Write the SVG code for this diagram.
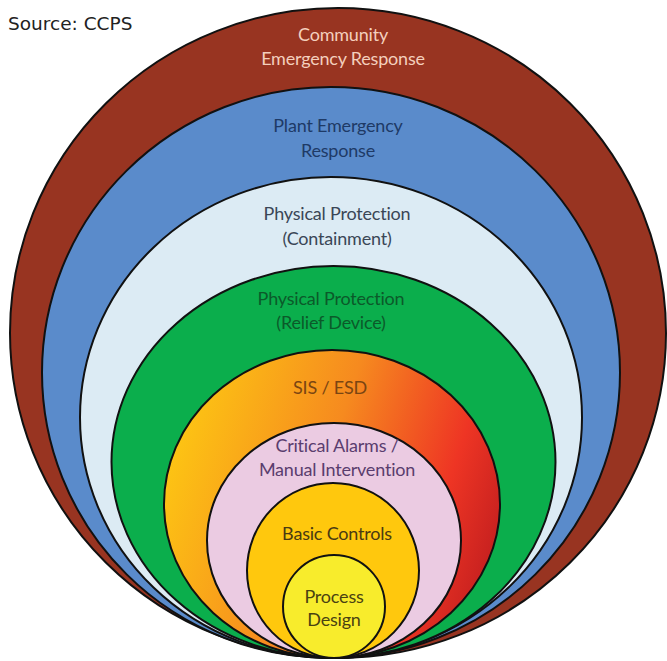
<svg xmlns="http://www.w3.org/2000/svg" width="667" height="661" viewBox="0 0 667 661">
<defs>
<linearGradient id="gOrange" x1="0" y1="0.35" x2="1" y2="0.65">
<stop offset="0" stop-color="#FDC613"/>
<stop offset="0.45" stop-color="#F68A1F"/>
<stop offset="0.8" stop-color="#EE3524"/>
<stop offset="1" stop-color="#C41F1F"/>
</linearGradient>
<style>
.ring{stroke:#111;stroke-width:2}
.lbl{font-family:Lato,"Open Sans","Liberation Sans",sans-serif;font-size:18px;text-anchor:middle;letter-spacing:-0.2px}
</style>
</defs>
<rect width="667" height="661" fill="#fff"/>
<text x="8" y="30" font-family="'DejaVu Sans',Verdana,sans-serif" font-size="18.5" fill="#222">Source: CCPS</text>
<g id="community">
<ellipse class="ring" cx="338" cy="333" rx="328" ry="325" fill="#983421"/>
<text class="lbl" fill="#F4CFBD"><tspan x="343" y="41">Community</tspan><tspan x="343" y="65">Emergency Response</tspan></text>
</g>
<g id="plant">
<ellipse class="ring" cx="331" cy="372.5" rx="289" ry="285.5" fill="#5A8BCB"/>
<text class="lbl" fill="#1E3A66"><tspan x="338" y="131.5">Plant Emergency</tspan><tspan x="338" y="156.5">Response</tspan></text>
</g>
<g id="containment">
<ellipse class="ring" cx="331" cy="417.5" rx="251" ry="240.5" fill="#DCEBF4"/>
<text class="lbl" fill="#3A4656"><tspan x="337" y="219.5">Physical Protection</tspan><tspan x="337" y="244.5">(Containment)</tspan></text>
</g>
<g id="relief">
<ellipse class="ring" cx="333.5" cy="462" rx="222" ry="196" fill="#0BAE4C"/>
<text class="lbl" fill="#0B5A2A"><tspan x="331" y="304.5">Physical Protection</tspan><tspan x="331" y="328.5">(Relief Device)</tspan></text>
</g>
<g id="sis">
<ellipse class="ring" cx="332" cy="504" rx="168" ry="154" fill="url(#gOrange)"/>
<text class="lbl" fill="#7A4512" x="330" y="393.5" letter-spacing="-0.6">SIS / ESD</text>
</g>
<g id="alarms">
<ellipse class="ring" cx="334" cy="540.5" rx="127" ry="117.5" fill="#EBCBE2"/>
<text class="lbl" fill="#5A3D6E"><tspan x="337" y="452">Critical Alarms /</tspan><tspan x="337" y="476">Manual Intervention</tspan></text>
</g>
<g id="basic">
<ellipse class="ring" cx="333" cy="570.5" rx="86" ry="87.5" fill="#FFC80D"/>
<text class="lbl" fill="#4A3A12" x="337" y="539.5">Basic Controls</text>
</g>
<g id="process">
<ellipse class="ring" cx="334" cy="606.5" rx="51" ry="51.5" fill="#F8EC2C"/>
<text class="lbl" fill="#4A4212" font-size="15.5"><tspan x="334" y="602.5">Process</tspan><tspan x="334" y="625.5">Design</tspan></text>
</g>
<g id="connectors"/>
</svg>
